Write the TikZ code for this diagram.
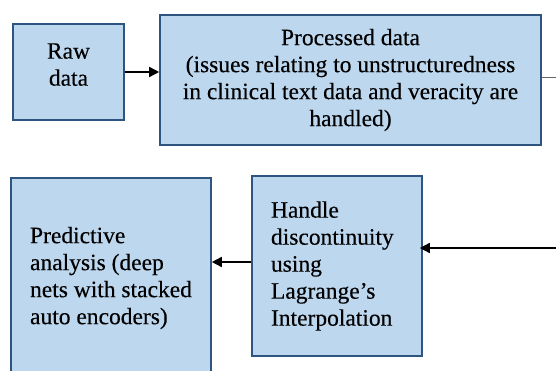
\documentclass[tikz,border=0pt]{standalone}
\usepackage{fontspec}
\setmainfont{Liberation Serif}[FakeBold=0.3]
\usetikzlibrary{arrows.meta}
\definecolor{boxfill}{RGB}{189,215,238}
\definecolor{boxline}{RGB}{46,84,128}
\begin{document}
\begin{tikzpicture}[x=1pt,y=-1pt,
  box/.style={draw=boxline, fill=boxfill, line width=1.6pt, inner sep=0pt,
    font=\fontsize{23.5}{27}\selectfont},
  arr/.style={line width=1.6pt, -{Triangle[length=10pt,width=10pt]}}]
\useasboundingbox (0,0) rectangle (556,371);
\clip (0,0) rectangle (556,371);
\node[box, minimum width=111pt, minimum height=96pt, align=center] (raw) at (68.5,72) {Raw\\data\\[-12pt]\mbox{}};
\node[box, minimum width=381pt, minimum height=130pt, align=center] (proc) at (350.5,80)
  {Processed data\\(issues relating to unstructuredness\\in clinical text data and veracity are\\handled)};
\node[box, minimum width=170pt, minimum height=180pt, text width=132pt, inner xsep=19pt, align=left] (handle) at (337,266)
  {Handle\\discontinuity\\using\\Lagrange’s\\Interpolation};
\node[box, minimum width=200pt, minimum height=200pt, align=left] (pred) at (111,278)
  {Predictive\\analysis (deep\\nets with stacked\\auto encoders)};
\coordinate (outR) at (560,78);
\coordinate (inR) at (560,248);
\draw[arr] (raw.east) -- (proc.west |- raw.east);
\draw[line width=1pt, gray!80!black] (proc.east |- outR) -- (outR);
\draw[arr] (inR) -- ([xshift=-3pt]handle.east |- inR);
\draw[arr] (handle.west |- 0,262) -- (pred.east |- 0,262);
\end{tikzpicture}
\end{document}
